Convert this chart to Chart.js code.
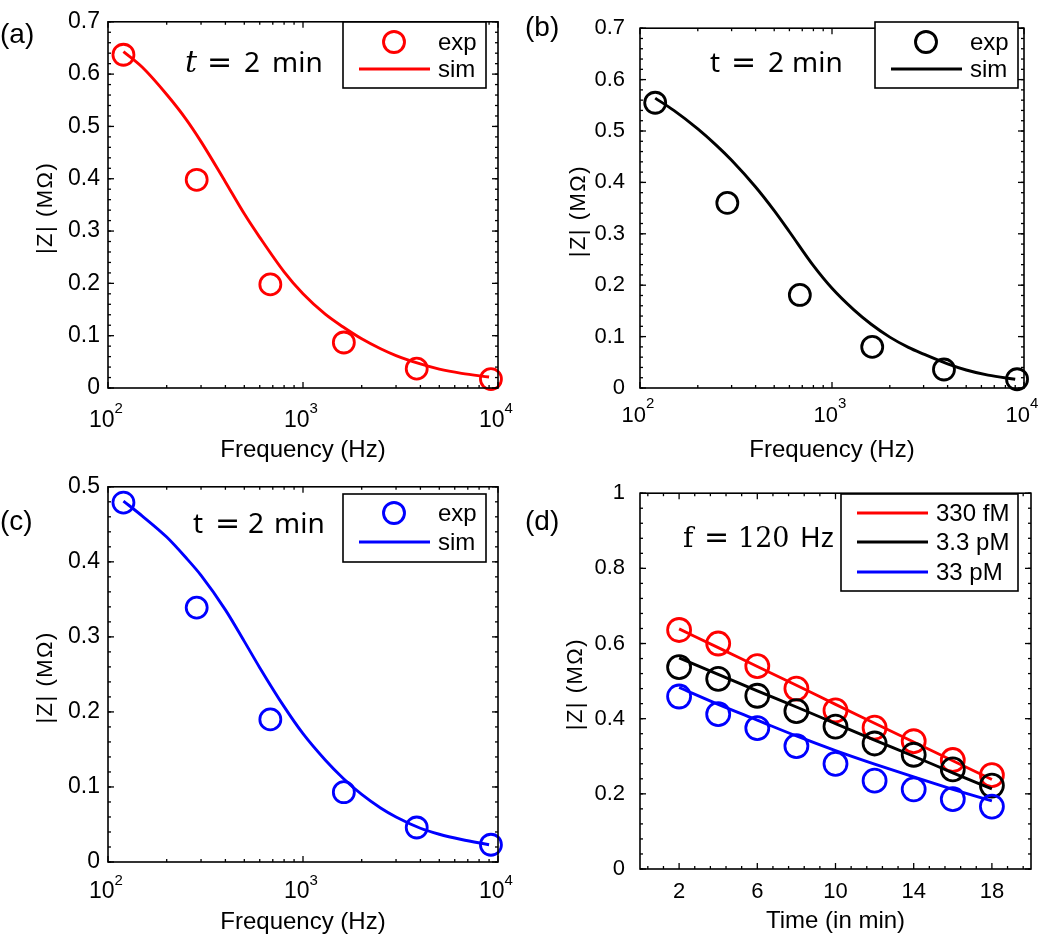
<!DOCTYPE html>
<html>
<head>
<meta charset="utf-8">
<script src="https://cdn.jsdelivr.net/npm/chart.js@4.4.1/dist/chart.umd.min.js"></script>
<style>
  html, body { margin: 0; padding: 0; background: #fff; overflow: hidden; }
  #wrap { position: relative; width: 1050px; height: 935px; }
  canvas { position: absolute; }
</style>
</head>
<body>
<div id="wrap">
  <canvas id="pa" width="525" height="465" style="left:0;top:0"></canvas>
  <canvas id="pb" width="525" height="465" style="left:525px;top:0"></canvas>
  <canvas id="pc" width="525" height="470" style="left:0;top:465px"></canvas>
  <canvas id="pd" width="525" height="470" style="left:525px;top:465px"></canvas>
</div>
<script>
// ---- data ----
// panels (a)-(c): |Z| vs frequency at t = 2 min
const freqExp = [120, 285, 680, 1620, 3830, 9200];
const freqSim = [120, 150, 200, 250, 300, 400, 500, 600, 800, 1000, 1300, 1600, 2000, 2500, 3000, 4000, 5000, 6500, 9000];
const freqTicks = [100, 1000, 10000];
const freqTickPow = ['2', '3', '4'];

const expA = [0.637, 0.398, 0.198, 0.087, 0.037, 0.017];
const simA = [0.643, 0.613, 0.561, 0.515, 0.471, 0.394, 0.333, 0.288, 0.222, 0.180, 0.141, 0.117, 0.094, 0.075, 0.062, 0.046, 0.036, 0.028, 0.021];

const expB = [0.555, 0.360, 0.181, 0.080, 0.036, 0.017];
const simB = [0.564, 0.540, 0.504, 0.472, 0.443, 0.391, 0.345, 0.304, 0.238, 0.194, 0.152, 0.124, 0.099, 0.079, 0.066, 0.047, 0.035, 0.025, 0.017];

const expC = [0.479, 0.339, 0.190, 0.093, 0.046, 0.023];
const simC = [0.481, 0.461, 0.433, 0.406, 0.382, 0.336, 0.294, 0.259, 0.207, 0.171, 0.136, 0.112, 0.090, 0.072, 0.060, 0.045, 0.037, 0.030, 0.023];

// panel (d): |Z| vs time at f = 120 Hz
const timeMin = [2, 4, 6, 8, 10, 12, 14, 16, 18];
const timeTicks = [2, 6, 10, 14, 18];
const concLabels = ['330 fM', '3.3 pM', '33 pM'];
const exp330fM = [0.636, 0.600, 0.540, 0.480, 0.422, 0.376, 0.340, 0.290, 0.250];
const sim330fM = [0.639, 0.589, 0.539, 0.489, 0.438, 0.388, 0.338, 0.288, 0.238];
const exp3p3pM = [0.537, 0.506, 0.461, 0.420, 0.379, 0.334, 0.304, 0.265, 0.222];
const sim3p3pM = [0.562, 0.518, 0.474, 0.431, 0.387, 0.343, 0.300, 0.256, 0.213];
const exp33pM  = [0.459, 0.412, 0.375, 0.327, 0.280, 0.235, 0.212, 0.186, 0.166];
const sim33pM  = [0.483, 0.438, 0.396, 0.354, 0.315, 0.279, 0.245, 0.212, 0.181];

const RED = '#ff0000', BLACK = '#000000', BLUE = '#0000ff';
const SANS = '"Liberation Sans", Arial, sans-serif';

function pts(xs, ys) { return xs.map((x, i) => ({ x: x, y: ys[i] })); }

function expSet(label, xs, ys, color, r, order) {
  return { label: label, data: pts(xs, ys), showLine: false, pointStyle: 'circle',
    pointRadius: r, borderWidth: 2.8, borderColor: color, backgroundColor: 'rgba(0,0,0,0)',
    clip: false, order: order, legendKind: 'marker' };
}
function simSet(label, xs, ys, color, order, kind) {
  return { label: label, data: pts(xs, ys), showLine: true, pointRadius: 0, borderWidth: 2.9,
    borderColor: color, backgroundColor: color, cubicInterpolationMode: 'monotone',
    order: order, legendKind: kind };
}

// tick positions (inward marks, on all four sides like MATLAB's box)
function steps(from, to, step) {
  const out = [];
  for (let v = from; v <= to + 1e-9; v += step) out.push(Math.round(v * 1000) / 1000);
  return out;
}
const logMinor = [];
[100, 1000].forEach(d => { for (let k = 2; k <= 9; k++) logMinor.push(k * d); });

const deco = {
  id: 'deco',
  afterDraw(chart, args, o) {
    const ctx = chart.ctx, a = chart.chartArea;
    const xs = chart.scales.x, ys = chart.scales.y;
    ctx.save();
    ctx.strokeStyle = '#000';
    ctx.fillStyle = '#000';

    const seg = (x1, y1, x2, y2) => { ctx.beginPath(); ctx.moveTo(x1, y1); ctx.lineTo(x2, y2); ctx.stroke(); };
    ctx.lineWidth = 1.3;
    const tx = (v, len) => { const p = xs.getPixelForValue(v); seg(p, a.bottom, p, a.bottom - len); seg(p, a.top, p, a.top + len); };
    const ty = (v, len) => { const p = ys.getPixelForValue(v); seg(a.left, p, a.left + len, p); seg(a.right, p, a.right - len, p); };
    o.xMajor.forEach(v => tx(v, 6));
    o.xMinor.forEach(v => tx(v, 3));
    o.yMajor.forEach(v => ty(v, 6));
    o.yMinor.forEach(v => ty(v, 3));

    // frame
    ctx.lineWidth = 1.6;
    ctx.strokeRect(a.left, a.top, a.right - a.left, a.bottom - a.top);

    // log-axis labels 10^n
    if (o.powLabels) {
      const L = o.powLabels;
      ctx.textAlign = 'left';
      ctx.textBaseline = 'alphabetic';
      freqTicks.forEach((v, i) => {
        const p = xs.getPixelForValue(v);
        ctx.font = L.main + 'px ' + SANS;
        const w1 = ctx.measureText('10').width;
        ctx.font = L.sup + 'px ' + SANS;
        const w2 = ctx.measureText(freqTickPow[i]).width;
        const x0 = p - (w1 + w2) / 2 - 2;
        ctx.font = L.main + 'px ' + SANS;
        ctx.fillText('10', x0, a.bottom + L.base);
        ctx.font = L.sup + 'px ' + SANS;
        ctx.fillText(freqTickPow[i], x0 + w1, a.bottom + L.base - L.rise);
      });
    }

    // y axis title
    const yt = chart.options.scales.y.title.text;
    ctx.save();
    ctx.translate(o.yTitleX, (a.top + a.bottom) / 2 + 3);
    ctx.rotate(-Math.PI / 2);
    ctx.font = '22px ' + SANS;
    ctx.letterSpacing = '1.5px';
    ctx.textAlign = 'center';
    ctx.textBaseline = 'middle';
    ctx.fillText(yt, 0, 0);
    ctx.restore();

    // panel label
    ctx.font = '28px ' + SANS;
    ctx.textAlign = 'left';
    ctx.textBaseline = 'middle';
    ctx.fillText(o.label, 0, o.labelY);

    // annotation
    ctx.textBaseline = 'alphabetic';
    o.note.parts.forEach(p => { ctx.font = p[2]; ctx.fillText(p[0], p[1], o.note.y); });

    // legend box
    const g = o.legend;
    ctx.fillStyle = '#fff';
    ctx.fillRect(g.x, g.y, g.w, g.h);
    ctx.lineWidth = 1.6;
    ctx.strokeRect(g.x, g.y, g.w, g.h);
    ctx.font = '24px ' + SANS;
    ctx.fillStyle = '#000';
    ctx.textBaseline = 'middle';
    const items = chart.data.datasets.filter(d => d.legendKind);
    items.forEach((d, i) => {
      const yy = g.y + g.rows[i];
      ctx.strokeStyle = d.borderColor;
      ctx.lineWidth = 2.9;
      if (d.legendKind === 'marker') {
        ctx.beginPath();
        ctx.arc(g.x + 51, yy, 10.5, 0, Math.PI * 2);
        ctx.stroke();
      } else {
        seg(g.x + 16, yy, g.x + 87, yy);
      }
      ctx.fillStyle = '#000';
      ctx.fillText(d.label, g.x + 95, yy + 1);
    });
    ctx.restore();
  }
};

function makePanel(id, datasets, xScale, yScale, pad, deco_opts) {
  return new Chart(document.getElementById(id), {
    type: 'scatter',
    data: { datasets: datasets },
    options: {
      responsive: false,
      animation: false,
      devicePixelRatio: 1,
      events: [],
      layout: { padding: pad },
      plugins: { legend: { display: false }, tooltip: { enabled: false }, deco: deco_opts },
      scales: { x: xScale, y: yScale }
    },
    plugins: [deco]
  });
}

function logX(h) {
  return {
    type: 'logarithmic', min: 100, max: 10000,
    grid: { display: false, drawTicks: false }, border: { display: false },
    ticks: { display: false },
    title: { display: true, text: 'Frequency (Hz)', color: '#000',
      font: { family: SANS, size: 24, lineHeight: 1.0 }, padding: { top: 0, bottom: h.tp } },
    afterFit: s => { s.height = h.h; }
  };
}
function linY(max, step, w, fs, padding) {
  return {
    type: 'linear', min: 0, max: max,
    grid: { display: false, drawTicks: false }, border: { display: false },
    ticks: { stepSize: step, padding: padding, color: '#000', font: { family: SANS, size: fs },
      callback: v => String(Math.round(v * 100) / 100) },
    title: { display: false, text: '|Z| (MΩ)' },
    afterFit: s => { s.width = w; }
  };
}

const noteT = (y, xt, xe, x2, xm, italic) => ({
  y: y,
  parts: [
    ['t', xt, italic ? 'italic 30px "DejaVu Serif", serif' : '28px "Noto Sans", sans-serif'],
    ['=', xe, '30px "DejaVu Sans", sans-serif'],
    ['2', x2, '28px "Noto Sans", sans-serif'],
    ['min', xm, '28px "Noto Sans", sans-serif']
  ]
});

// (a)
makePanel('pa',
  [expSet('exp', freqExp, expA, RED, 10.5, 2), simSet('sim', freqSim, simA, RED, 1, 'line')],
  logX({ h: 77, tp: 3 }), linY(0.7, 0.1, 108, 23, 8),
  { left: 0, right: 27, top: 10, bottom: 0 },
  { label: '(a)', labelY: 35, yTitleX: 46,
    xMajor: freqTicks, xMinor: logMinor, yMajor: steps(0, 0.7, 0.1), yMinor: steps(0, 0.7, 0.02),
    powLabels: { main: 23, sup: 15, base: 39, rise: 14 },
    note: noteT(72, 185, 207, 244, 272, true),
    legend: { x: 343, y: 22, w: 143, h: 66, rows: [20, 47] } });

// (b)
makePanel('pb',
  [expSet('exp', freqExp, expB, BLACK, 10.5, 2), simSet('sim', freqSim, simB, BLACK, 1, 'line')],
  logX({ h: 77, tp: 3 }), linY(0.7, 0.1, 115, 22, 15),
  { left: 0, right: 26, top: 10, bottom: 0 },
  { label: '(b)', labelY: 28, yTitleX: 54,
    xMajor: freqTicks, xMinor: logMinor, yMajor: steps(0, 0.7, 0.1), yMinor: steps(0, 0.7, 0.02),
    powLabels: { main: 22, sup: 15, base: 34, rise: 14 },
    note: noteT(72, 185, 206, 243, 267, false),
    legend: { x: 350, y: 22, w: 143, h: 66, rows: [20, 47] } });

// (c)
makePanel('pc',
  [expSet('exp', freqExp, expC, BLUE, 10.5, 2), simSet('sim', freqSim, simC, BLUE, 1, 'line')],
  logX({ h: 73, tp: 1 }), linY(0.5, 0.1, 108, 23, 8),
  { left: 0, right: 27, top: 17, bottom: 0 },
  { label: '(c)', labelY: 57, yTitleX: 46,
    xMajor: freqTicks, xMinor: logMinor, yMajor: steps(0, 0.5, 0.1), yMinor: steps(0, 0.5, 0.02),
    powLabels: { main: 23, sup: 15, base: 36, rise: 13 },
    note: noteT(68, 193, 215, 248, 274, false),
    legend: { x: 343, y: 29, w: 143, h: 68, rows: [19, 48] } });

// (d)
const dSets = [
  expSet(concLabels[0], timeMin, exp330fM, RED, 11.5, 10),
  simSet(concLabels[0], timeMin, sim330fM, RED, 9, 'line'),
  expSet(concLabels[1], timeMin, exp3p3pM, BLACK, 11.5, 8),
  simSet(concLabels[1], timeMin, sim3p3pM, BLACK, 7, 'line'),
  expSet(concLabels[2], timeMin, exp33pM, BLUE, 11.5, 6),
  simSet(concLabels[2], timeMin, sim33pM, BLUE, 5, 'line')
];
dSets.forEach(d => { if (d.legendKind === 'marker') d.legendKind = null; });

makePanel('pd', dSets,
  {
    type: 'linear', min: 0, max: 20,
    grid: { display: false, drawTicks: false }, border: { display: false },
    ticks: { padding: 10, color: '#000', font: { family: SANS, size: 22 } },
    afterBuildTicks: s => { s.ticks = timeTicks.map(v => ({ value: v })); },
    title: { display: true, text: 'Time (in min)', color: '#000',
      font: { family: SANS, size: 24, lineHeight: 1.0 }, padding: { top: 0, bottom: 2 } },
    afterFit: s => { s.height = 66; }
  },
  linY(1, 0.2, 115, 22, 15),
  { left: 0, right: 19, top: 17, bottom: 0 },
  { label: '(d)', labelY: 57, yTitleX: 51,
    xMajor: timeTicks, xMinor: steps(0.4, 19.6, 0.8).filter(v => timeTicks.indexOf(v) < 0),
    yMajor: steps(0, 1, 0.2), yMinor: steps(0, 1, 0.04),
    powLabels: null,
    note: { y: 82, parts: [
      ['f', 158, '28px "DejaVu Serif", serif'],
      ['=', 179, '30px "DejaVu Sans", sans-serif'],
      ['120', 213, '27px "DejaVu Serif", serif'],
      ['Hz', 275, '28px "Noto Sans", sans-serif']
    ] },
    legend: { x: 316, y: 29, w: 177, h: 97, rows: [19, 48, 78] } });
</script>
</body>
</html>
